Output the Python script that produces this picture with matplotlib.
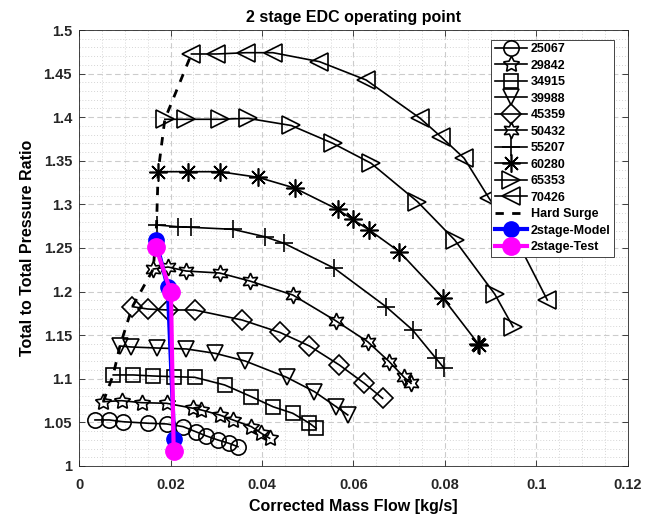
import matplotlib
matplotlib.use("Agg")
import matplotlib.pyplot as plt
from matplotlib.ticker import MultipleLocator

plt.rcParams['font.family'] = ['Liberation Sans', 'DejaVu Sans']
plt.rcParams['font.weight'] = 'bold'

# ---- data ----
speeds = ['25067', '29842', '34915', '39988', '45359', '50432', '55207', '60280', '65353', '70426']

x_25067 = [0.00349, 0.00661, 0.00953, 0.01511, 0.01913, 0.02275, 0.02552, 0.02785, 0.03038, 0.03278, 0.03474]
y_25067 = [1.0528, 1.0528, 1.0508, 1.0490, 1.0482, 1.0451, 1.0393, 1.0344, 1.0298, 1.0260, 1.0221]

x_29842 = [0.0053, 0.00931, 0.01367, 0.01913, 0.02493, 0.02676, 0.03075, 0.03365, 0.03767, 0.03985, 0.04166]
y_29842 = [1.0737, 1.0749, 1.0726, 1.0719, 1.0662, 1.0642, 1.0585, 1.0528, 1.0451, 1.0375, 1.0318]

x_34915 = [0.00748, 0.01184, 0.01621, 0.02079, 0.0253, 0.03184, 0.03767, 0.04238, 0.04674, 0.05038, 0.05184]
y_34915 = [1.1044, 1.1044, 1.1032, 1.1024, 1.1017, 1.0929, 1.0795, 1.0680, 1.0604, 1.0490, 1.0432]

x_39988 = [0.00894, 0.01134, 0.01695, 0.02349, 0.02977, 0.03631, 0.04547, 0.05147, 0.05620, 0.05874]
y_39988 = [1.1376, 1.1365, 1.1353, 1.1342, 1.1292, 1.1204, 1.1015, 1.0852, 1.0680, 1.0585]

x_45359 = [0.01167, 0.01505, 0.01948, 0.0253, 0.03566, 0.04395, 0.05038, 0.05692, 0.06238, 0.06637]
y_45359 = [1.1827, 1.1800, 1.1789, 1.1789, 1.1674, 1.1531, 1.1376, 1.1158, 1.0948, 1.0776]

x_50432 = [0.01625, 0.01948, 0.0234, 0.03075, 0.0373, 0.04674, 0.0562, 0.0631, 0.06783, 0.0711, 0.07256]
y_50432 = [1.2259, 1.2282, 1.2236, 1.2213, 1.2122, 1.1961, 1.1663, 1.1425, 1.1196, 1.1015, 1.0948]

x_55207 = [0.01695, 0.02166, 0.02458, 0.03365, 0.04057, 0.04482, 0.05583, 0.06711, 0.07291, 0.07801, 0.07983]
y_55207 = [1.2764, 1.2744, 1.2737, 1.2714, 1.2630, 1.2554, 1.2267, 1.1827, 1.1560, 1.1235, 1.1120]

x_60280 = [0.0173, 0.02384, 0.03075, 0.03911, 0.04711, 0.05655, 0.05983, 0.06347, 0.07001, 0.07961, 0.08746, 0.0873]
y_60280 = [1.3375, 1.3375, 1.3375, 1.3311, 1.3188, 1.2942, 1.2827, 1.2706, 1.2458, 1.1923, 1.1388, 1.1400]

x_65353 = [0.01876, 0.02349, 0.03075, 0.03692, 0.04639, 0.05546, 0.06384, 0.07399, 0.08212, 0.09087, 0.09487]
y_65353 = [1.3976, 1.3976, 1.3976, 1.3987, 1.3905, 1.3701, 1.3472, 1.3031, 1.2592, 1.1972, 1.1597]

x_70426 = [0.02458, 0.03003, 0.03658, 0.04238, 0.05256, 0.06275, 0.07459, 0.07911, 0.08419, 0.08964, 0.09509, 0.10236]
y_70426 = [1.4725, 1.4725, 1.4740, 1.4740, 1.4637, 1.4427, 1.3987, 1.3776, 1.3529, 1.3070, 1.2649, 1.1904]

surge_x = [0.0053, 0.00748, 0.00894, 0.01167, 0.01625, 0.01695, 0.0173, 0.01876, 0.02458]
surge_y = [1.0737, 1.1044, 1.1376, 1.1827, 1.2259, 1.2764, 1.3375, 1.3976, 1.4725]

model_x = [0.0168, 0.0194, 0.0208]
model_y = [1.2586, 1.2050, 1.0307]
test_x = [0.0168, 0.0201, 0.0207]
test_y = [1.2510, 1.1990, 1.0172]

x_ticks = [0, 0.02, 0.04, 0.06, 0.08, 0.1, 0.12]
x_tick_labels = ['0', '0.02', '0.04', '0.06', '0.08', '0.1', '0.12']
y_ticks = [1, 1.05, 1.1, 1.15, 1.2, 1.25, 1.3, 1.35, 1.4, 1.45, 1.5]
y_tick_labels = ['1', '1.05', '1.1', '1.15', '1.2', '1.25', '1.3', '1.35', '1.4', '1.45', '1.5']

series_x = [x_25067, x_29842, x_34915, x_39988, x_45359, x_50432, x_55207, x_60280, x_65353, x_70426]
series_y = [y_25067, y_29842, y_34915, y_39988, y_45359, y_50432, y_55207, y_60280, y_65353, y_70426]

markers = ['o', (5, 1, 0), 's', 'v', 'D', (6, 1, 0), '+', (8, 2, 0), '>', '<']
msizes = [11, 12, 10, 12, 10, 12, 13, 13, 13, 13]

fig = plt.figure(figsize=(6.6, 5.21), dpi=100)
ax = fig.add_axes([0.1197, 0.1056, 0.8318, 0.8368])

for xs, ys, lab, m, ms in zip(series_x, series_y, speeds, markers, msizes):
    ax.plot(xs, ys, color='black', lw=1.2, marker=m, ms=ms, mfc='none', mec='black', mew=1.2, label=lab)

ax.plot(surge_x, surge_y, color='black', lw=2.0, ls=(0, (3, 3)), label='Hard Surge')
ax.plot(model_x, model_y, color='blue', lw=3, marker='o', ms=11, mfc='blue', mec='blue', label='2stage-Model')
ax.plot(test_x, test_y, color='magenta', lw=3, marker='o', ms=12.5, mfc='magenta', mec='magenta', label='2stage-Test')

ax.set_xlim(0, 0.12)
ax.set_ylim(1, 1.5)
ax.set_xticks(x_ticks)
ax.set_xticklabels(x_tick_labels)
ax.set_yticks(y_ticks)
ax.set_yticklabels(y_tick_labels)
ax.xaxis.set_minor_locator(MultipleLocator(0.005))
ax.yaxis.set_minor_locator(MultipleLocator(0.01))

ax.grid(which='major', color='#cccccc', ls=(0, (5, 3)), lw=0.8)
ax.grid(which='minor', color='#d5d5d5', ls=(0, (1, 2)), lw=0.7)
ax.set_axisbelow(True)
ax.tick_params(which='both', direction='in', colors='#262626', labelsize=10.5, top=True, right=True)
ax.tick_params(which='minor', length=0)
ax.tick_params(which='major', length=4, width=0.6)
ax.tick_params(axis='x', pad=9)
ax.tick_params(axis='y', pad=5)
for lab in ax.get_xticklabels() + ax.get_yticklabels():
    lab.set_fontweight('bold')
for sp in ax.spines.values():
    sp.set_color('#262626')
    sp.set_linewidth(0.6)

ax.set_title('2 stage EDC operating point', fontsize=11.5, fontweight='bold', pad=6)
ax.set_xlabel('Corrected Mass Flow [kg/s]', fontsize=11.5, fontweight='bold', color='black', labelpad=5)
ax.set_ylabel('Total to Total Pressure Ratio', fontsize=11.5, fontweight='bold', color='black', labelpad=6)

leg = ax.legend(loc='upper right', bbox_to_anchor=(0.975, 0.978), fontsize=9, frameon=True, fancybox=False,
                edgecolor='#262626', framealpha=1, handlelength=2.6, labelspacing=0.36, borderpad=0.3,
                handletextpad=0.3, borderaxespad=0)
leg.get_frame().set_linewidth(0.6)
for t in leg.get_texts():
    t.set_fontweight('bold')

fig.savefig('out.png', dpi=100)
